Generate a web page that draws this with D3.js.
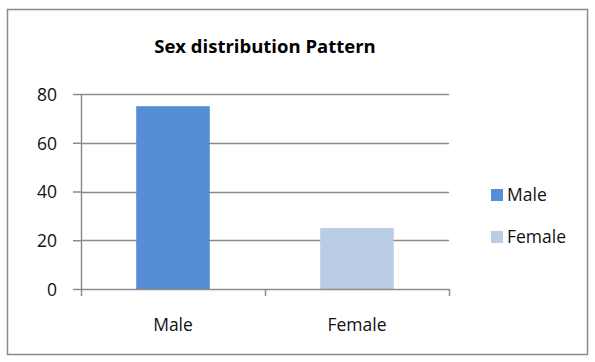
<!DOCTYPE html>
<html>
<head>
<meta charset="utf-8">
<script src="https://cdn.jsdelivr.net/npm/d3@7"></script>
<style>
  html, body { margin: 0; padding: 0; background: #fff; }
  svg { display: block; font-family: "Open Sans", sans-serif; }
</style>
</head>
<body>
<svg id="chart" width="595" height="362"></svg>
<script>
// Sex distribution data
const categories = ["Male", "Female"];
const values = [75, 25];
const colors = ["#558ed5", "#b9cde5"];
const yTicks = [0, 20, 40, 60, 80];
const title = "Sex distribution Pattern";

const svg = d3.select("#chart");
const labelSize = 17.5;

// outer frame
svg.append("rect")
  .attr("x", 7.5).attr("y", 9.5)
  .attr("width", 580).attr("height", 345)
  .attr("fill", "#fff").attr("stroke", "#8a8a8a").attr("stroke-width", 1.5);

const plot = { left: 81, right: 449, top: 94, bottom: 289 };

const x = d3.scaleBand()
  .domain(categories)
  .range([plot.left, plot.right])
  .paddingInner(0.6)
  .paddingOuter(0.3);

const y = d3.scaleLinear()
  .domain([0, 80])
  .range([plot.bottom, plot.top]);

// gridlines
svg.append("g")
  .selectAll("line")
  .data(yTicks.filter(d => d > 0))
  .join("line")
  .attr("x1", plot.left).attr("x2", plot.right)
  .attr("y1", d => Math.round(y(d)) + 0.5).attr("y2", d => Math.round(y(d)) + 0.5)
  .attr("stroke", "#8c8c8c").attr("stroke-width", 1.5);

// bars
svg.append("g")
  .selectAll("rect")
  .data(categories)
  .join("rect")
  .attr("x", d => x(d))
  .attr("width", x.bandwidth())
  .attr("y", (d, i) => y(values[i]))
  .attr("height", (d, i) => y(0) - y(values[i]))
  .attr("fill", (d, i) => colors[i]);

// y axis
const yAxis = svg.append("g")
  .attr("transform", `translate(${plot.left},0)`)
  .call(d3.axisLeft(y).tickValues(yTicks).tickSize(8).tickPadding(16).tickFormat(d3.format("d")));
yAxis.select(".domain").attr("stroke", "#8c8c8c").attr("stroke-width", 1.5).attr("d", `M0.5,${plot.top}V${plot.bottom}`);
yAxis.selectAll(".tick line").attr("stroke", "#8c8c8c").attr("stroke-width", 1.5);
yAxis.selectAll(".tick text")
  .attr("font-size", labelSize).attr("fill", "#111")
  .attr("font-family", "'Open Sans', sans-serif")
  .attr("dy", "0.36em");

// x axis
const boundaries = [plot.left, (plot.left + plot.right) / 2, plot.right];
const xAxis = svg.append("g").attr("transform", `translate(0,${plot.bottom})`);
xAxis.append("line")
  .attr("x1", plot.left).attr("x2", plot.right)
  .attr("y1", 0.5).attr("y2", 0.5)
  .attr("stroke", "#8c8c8c").attr("stroke-width", 1.5);
xAxis.selectAll("line.tk")
  .data(boundaries)
  .join("line").attr("class", "tk")
  .attr("x1", d => d + 0.5).attr("x2", d => d + 0.5)
  .attr("y1", 0).attr("y2", 7)
  .attr("stroke", "#8c8c8c").attr("stroke-width", 1.5);
xAxis.selectAll("text")
  .data(categories)
  .join("text")
  .attr("x", d => x(d) + x.bandwidth() / 2)
  .attr("y", 42)
  .attr("text-anchor", "middle")
  .attr("font-size", labelSize)
  .attr("fill", "#111")
  .text(d => d);

// title
svg.append("text")
  .attr("x", (plot.left + plot.right) / 2)
  .attr("y", 53)
  .attr("text-anchor", "middle")
  .attr("font-size", 18.5)
  .attr("font-weight", "bold")
  .attr("fill", "#000")
  .text(title);

// legend
const legend = svg.append("g");
const items = legend.selectAll("g")
  .data(categories)
  .join("g")
  .attr("transform", (d, i) => `translate(491,${189 + i * 42})`);
items.append("rect")
  .attr("width", 12).attr("height", 12)
  .attr("fill", (d, i) => colors[i]);
items.append("text")
  .attr("x", 16).attr("y", 12)
  .attr("font-size", labelSize)
  .attr("fill", "#111")
  .text(d => d);
</script>
</body>
</html>
